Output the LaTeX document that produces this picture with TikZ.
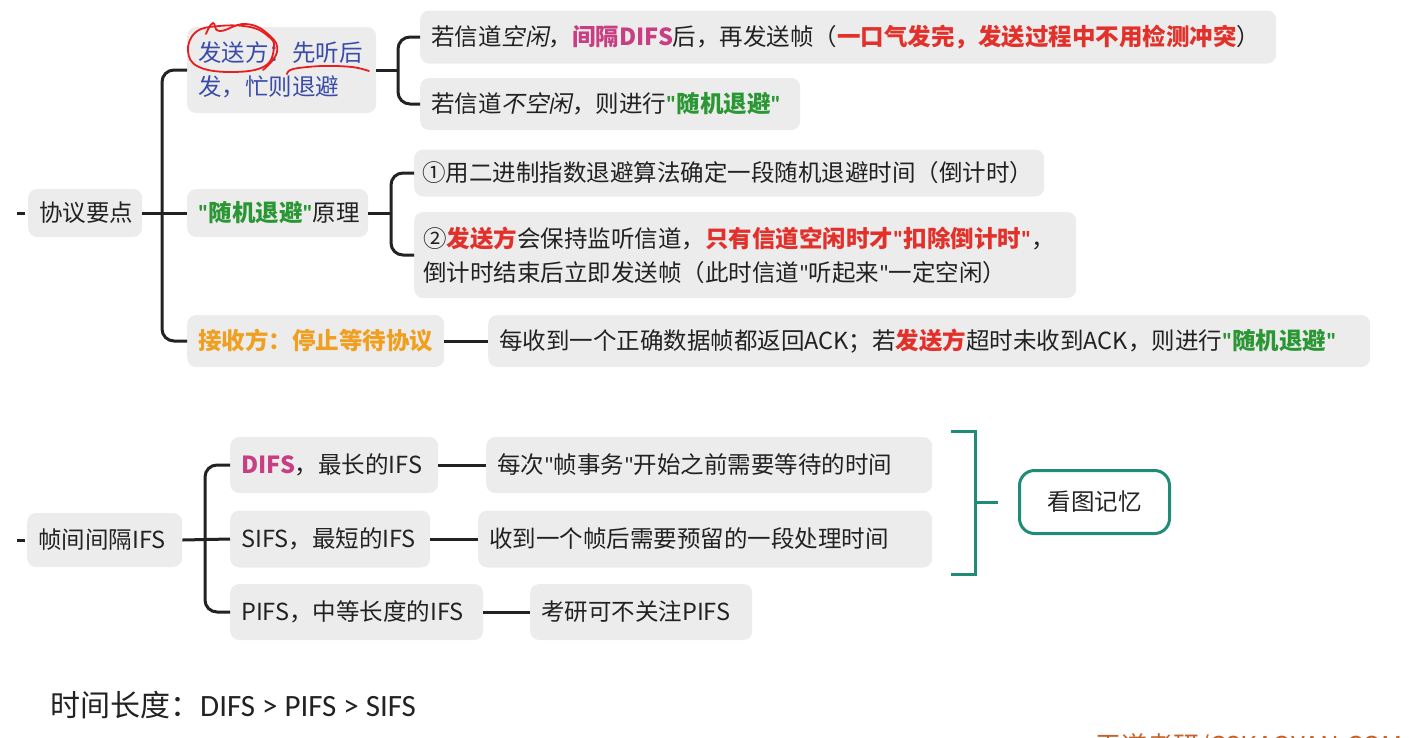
\documentclass[tikz,border=0pt]{standalone}
\usepackage{fontspec}
\newfontfamily\cjk{Noto Sans CJK SC}
\newfontfamily\slnt[FakeSlant=0.2]{Noto Sans CJK SC}
\newfontfamily\carl{Carlito}
\definecolor{boxgray}{RGB}{236,236,236}
\definecolor{txt}{RGB}{34,34,34}
\definecolor{cblue}{RGB}{58,76,168}
\definecolor{cmag}{RGB}{200,62,130}
\definecolor{cred}{RGB}{226,48,42}
\definecolor{cgreen}{RGB}{42,150,52}
\definecolor{corange}{RGB}{240,160,32}
\definecolor{cteal}{RGB}{32,140,120}
\definecolor{annred}{RGB}{232,30,30}
\definecolor{wmark}{RGB}{196,98,40}
\newcommand\hlR[1]{{\color{cred}\bfseries #1}}
\newcommand\hlG[1]{{\color{cgreen}\bfseries #1}}
\newcommand\hlM[1]{{\color{cmag}\bfseries #1}}
\newcommand\qq{{\carl\bfseries "}}
\newcommand\fs{\cjk\fontsize{23.5}{34}\selectfont}
\begin{document}
\begin{tikzpicture}[x=1pt,y=-1pt,
  box/.style={fill=boxgray, rounded corners=9pt, inner xsep=11pt, inner ysep=0pt, font=\fs, text=txt, anchor=west, align=left, text width=#1},
  conn/.style={line width=3pt, draw=txt},
  tealline/.style={line width=3pt, draw=cteal},
  annot/.style={draw=annred, line width=1.8pt, line cap=round}]
\useasboundingbox (0,0) rectangle (1419,737);

% ---------- top section ----------
\node[box=92pt, minimum height=48pt] (root) at (28,213) {协议要点};
\node[box=167pt, minimum height=86pt] (snd) at (187,70)
  {\color{cblue}发送方：先听后\\\color{cblue}发，忙则退避};
\node[box=834pt, minimum height=53pt] (a1) at (420,37)
  {若信道{\slnt 空闲}，\hlM{间隔DIFS}后，再发送帧（\hlR{一口气发完，发送过程中不用检测冲突}）};
\node[box=358pt, minimum height=52pt] (a2) at (420,104)
  {若信道{\slnt 不空闲}，则进行\hlG{\qq 随机退避\qq}};
\node[box=159pt, minimum height=48pt] (prin) at (187,213)
  {\hlG{\qq 随机退避\qq}原理};
\node[box=614pt, minimum height=47pt, inner xsep=8pt] (b1) at (414,173)
  {①用二进制指数退避算法确定一段随机退避时间（倒计时）};
\node[box=644pt, minimum height=86pt, inner xsep=9pt] (b2) at (414,255)
  {②\hlR{发送方}会保持监听信道，\hlR{只有信道空闲时才\qq 扣除倒计时\qq}，\\倒计时结束后立即发送帧（此时信道{\carl "}听起来{\carl "}一定空闲）};
\node[box=235pt, minimum height=52pt] (rcv) at (187,341)
  {{\color{corange}\bfseries 接收方：停止等待协议}};
\node[box=860pt, minimum height=52pt] (c1) at (488,341)
  {每收到一个正确数据帧都返回ACK；若\hlR{发送方}超时未收到ACK，则进行\hlG{\qq 随机退避\qq}};

\coordinate (st1) at (17,213);
\draw[conn] (st1) -- ++(8,0);
\draw[conn] (root.east) -- (prin.west);
\draw[conn, rounded corners=12pt] (snd.west) -- (162,70) -- (162,341) -- (rcv.west);
\draw[conn] (snd.east) -- (398,70);
\draw[conn, rounded corners=12pt] (a1.west) -- (398,37) -- (398,104) -- (a2.west);
\draw[conn] (prin.east) -- (391,213);
\draw[conn, rounded corners=12pt] (b1.west) -- (391,173) -- (391,255) -- (b2.west);
\draw[conn] (rcv.east) -- (c1.west);

% red hand annotation
\draw[annot] plot[smooth cycle, tension=0.7] coordinates {(274,47) (265,66) (233,72) (199,67) (188,51) (196,32) (219,26) (250,27) (268,36)};
\draw[annot] plot[smooth, tension=0.8] coordinates {(206,34) (213,23) (220,31) (246,24) (269,35) (277,52) (263,70)};
\draw[annot] plot[smooth, tension=0.6] coordinates {(287,74) (293,69) (322,66) (352,67) (369,71)};

% ---------- bottom section ----------
\node[box=133pt, minimum height=54pt] (ifs) at (27,540) {帧间间隔IFS};
\node[box=186pt, minimum height=56pt] (d1) at (230,465) {\hlM{DIFS}，最长的IFS};
\node[box=178pt, minimum height=57pt] (d2) at (230,539) {SIFS，最短的IFS};
\node[box=231pt, minimum height=56pt] (d3) at (230,612) {PIFS，中等长度的IFS};
\node[box=424pt, minimum height=56pt] (e1) at (486,465) {每次{\carl "}帧事务{\carl "}开始之前需要等待的时间};
\node[box=432pt, minimum height=57pt] (e2) at (478,539) {收到一个帧后需要预留的一段处理时间};
\node[box=200pt, minimum height=56pt] (e3) at (530,612) {考研可不关注PIFS};

\coordinate (st2) at (17,540);
\draw[conn] (st2) -- ++(8,0);
\draw[conn] (ifs.east) -- (d2.west);
\draw[conn, rounded corners=12pt] (d1.west) -- (205,465) -- (205,612) -- (d3.west);
\draw[conn] (d1.east) -- (e1.west);
\draw[conn] (d2.east) -- (e2.west);
\draw[conn] (d3.east) -- (e3.west);

\coordinate (bt) at (951,431);
\coordinate (bb) at (951,574);
\draw[tealline] (bt) -- (975,431) -- (975,574) -- (bb);
\node[draw=cteal, line width=3pt, fill=white, rounded corners=15pt, minimum width=150pt, minimum height=63pt, font=\fs, text=txt, anchor=west] (mem) at (1018,502) {看图记忆};
\draw[tealline] (975,502) -- (998,502);

% bottom text
\node[anchor=west, inner sep=0pt, text=txt, font=\cjk\fontsize{30}{34}\selectfont] (tl) at (50,705) {时间长度：{\carl\fontsize{31}{34}\selectfont DIFS > PIFS > SIFS}};

% watermark (cut off at the edge, as in the source)
\begin{scope}
\clip (0,0) rectangle (1419,737);
\node[anchor=base west, inner sep=0pt, text=wmark, font=\cjk\fontsize{26}{30}\selectfont] (wm) at (1095,755) {王道考研/CSKAOYAN.COM};
\end{scope}
\end{tikzpicture}
\end{document}
